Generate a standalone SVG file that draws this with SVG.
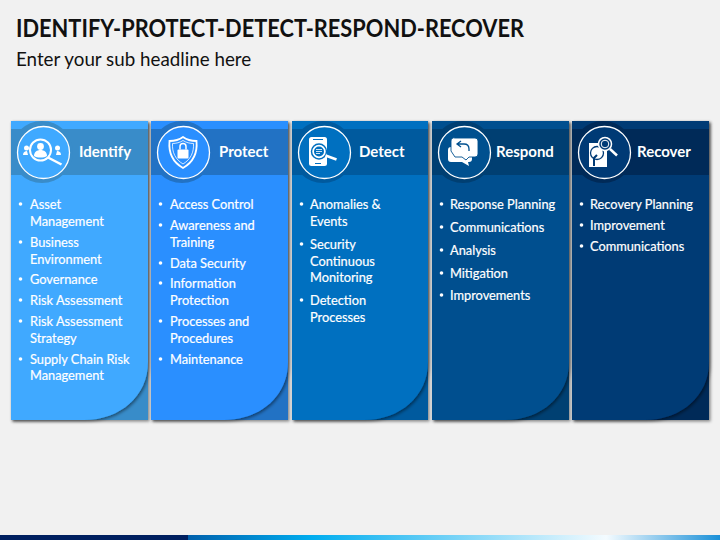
<svg xmlns="http://www.w3.org/2000/svg" width="720" height="540" viewBox="0 0 720 540">
<style>
text{font-family:Lato,"Open Sans","Liberation Sans",sans-serif;fill:#fff}
.title{font-size:24.5px;font-weight:700;fill:#111}
.sub{font-size:18.8px;fill:#111}
.h{font-size:15px;font-weight:700}
.t{font-size:12.8px;stroke:#fff;stroke-width:.2px}
.ring{fill:none;stroke:#fff;stroke-width:1.3}
.w{fill:#fff;stroke:none}
.sw{fill:none;stroke:#fff}
</style>
<defs>
<linearGradient id="bar" x1="0" x2="1" y1="0" y2="0">
<stop offset="0" stop-color="#0060ac"/><stop offset=".233" stop-color="#00adef"/><stop offset=".786" stop-color="#f4fbff"/><stop offset="1" stop-color="#1a90d8"/>
</linearGradient>
<filter id="sh" x="-10%" y="-5%" width="120%" height="110%"><feDropShadow dx="1.500" dy="1.500" stdDeviation="1.500" flood-color="#000" flood-opacity=".45"/></filter>
<path id="face" d="M11 121H148V362C148 396 120 420 84 420H11Z"/>
<clipPath id="c"><rect x="11" y="121" width="137" height="299"/></clipPath>
</defs>
<rect width="720" height="540" fill="#f1f1f1"/>
<text class="title" x="16" y="37" textLength="508" lengthAdjust="spacingAndGlyphs">IDENTIFY-PROTECT-DETECT-RESPOND-RECOVER</text>
<text class="sub" x="16" y="66">Enter your sub headline here</text>
<rect y="535" width="188" height="5" fill="#002060"/>
<rect x="188" y="535" width="532" height="5" fill="url(#bar)"/>

<g id="identify">
<rect x="11" y="121" width="137" height="299" fill="#398cc9" filter="url(#sh)"/>
<use href="#face" fill="#3fa9ff" filter="url(#sh)"/>
<rect x="11" y="129" width="137" height="46" fill="#398cc9"/>
<g clip-path="url(#c)"><circle cx="42" cy="152" r="31" fill="#398cc9"/></g>
<circle cx="43.500" cy="152.500" r="26" fill="#3fa9ff"/><circle class="ring" cx="43.500" cy="152.500" r="26"/>
<circle class="sw" cx="40.500" cy="150" r="10.500" stroke-width="2"/>
<circle class="w" cx="40.500" cy="146.500" r="3.400"/><path class="w" d="M34 156c0-4 3-6 6.500-6s6.500 2 6.500 6c-3 2-10 2-13 0z"/>
<path class="sw" d="M48 157.500l13.500 7" stroke-width="2.500"/>
<circle class="w" cx="26.500" cy="148" r="2.500"/><path class="w" d="M23 155c0-3 2-4 4-4l1 4z"/>
<circle class="w" cx="57.500" cy="148" r="2.500"/><path class="w" d="M61 155c0-3-2-4-4-4l-1 4z"/>
<text class="h" x="79" y="157">Identify</text>
<g class="t"><circle class="w" cx="20.500" cy="204" r="1.800"/><text x="30" y="208.500">Asset</text><text x="30" y="225.500">Management</text>
<circle class="w" cx="20.500" cy="242" r="1.800"/><text x="30" y="246.500">Business</text><text x="30" y="263.500">Environment</text>
<circle class="w" cx="20.500" cy="279" r="1.800"/><text x="30" y="283.500">Governance</text>
<circle class="w" cx="20.500" cy="300" r="1.800"/><text x="30" y="304.500">Risk Assessment</text>
<circle class="w" cx="20.500" cy="321" r="1.800"/><text x="30" y="325.500">Risk Assessment</text><text x="30" y="342.500">Strategy</text>
<circle class="w" cx="20.500" cy="359" r="1.800"/><text x="30" y="363.500">Supply Chain Risk</text><text x="30" y="380">Management</text></g>
</g>

<g id="protect" transform="translate(140 0)">
<rect x="11" y="121" width="137" height="299" fill="#2272c4" filter="url(#sh)"/>
<use href="#face" fill="#2a8fff" filter="url(#sh)"/>
<rect x="11" y="129" width="137" height="46" fill="#2272c4"/>
<g clip-path="url(#c)"><circle cx="42" cy="152" r="31" fill="#2272c4"/></g>
<circle cx="43.500" cy="152.500" r="26" fill="#2a8fff"/><circle class="ring" cx="43.500" cy="152.500" r="26"/>
<path class="sw" d="M43 137c4 3 9 4 13.500 4 1 11-3 21-13.500 27-10.500-6-14.500-16-13.500-27 4.500 0 9.500-1 13.500-4z" stroke-width="1.800"/>
<path class="sw" d="M43 140.500c3 2 7 3 10.500 3 .5 9-3 16-10.500 20.500-7.500-4.500-11-11.500-10.500-20.500 3.500 0 7.500-1 10.500-3z" stroke-width=".8"/>
<rect class="w" x="37.500" y="149.500" width="11" height="9" rx="1"/><path class="sw" d="M40 149.500v-3a3 3 0 0 1 6 0v3" stroke-width="1.500"/>
<text class="h" x="79" y="157">Protect</text>
<g class="t"><circle class="w" cx="20.500" cy="204" r="1.800"/><text x="30" y="208.500">Access Control</text>
<circle class="w" cx="20.500" cy="225" r="1.800"/><text x="30" y="229.500">Awareness and</text><text x="30" y="246.500">Training</text>
<circle class="w" cx="20.500" cy="263" r="1.800"/><text x="30" y="267.500">Data Security</text>
<circle class="w" cx="20.500" cy="283" r="1.800"/><text x="30" y="287.500">Information</text><text x="30" y="304.500">Protection</text>
<circle class="w" cx="20.500" cy="321" r="1.800"/><text x="30" y="325.500">Processes and</text><text x="30" y="342.500">Procedures</text>
<circle class="w" cx="20.500" cy="359" r="1.800"/><text x="30" y="363.500">Maintenance</text></g>
</g>

<g id="detect" transform="translate(281 0)">
<rect x="11" y="121" width="136" height="299" fill="#005a9e" filter="url(#sh)"/>
<path d="M11 121H147V362C147 396 119 420 83 420H11Z" fill="#0070c0" filter="url(#sh)"/>
<rect x="11" y="129" width="136" height="46" fill="#005a9e"/>
<g clip-path="url(#c)"><circle cx="42" cy="152" r="31" fill="#005a9e"/></g>
<circle cx="43.500" cy="152.500" r="26" fill="#0070c0"/><circle class="ring" cx="43.500" cy="152.500" r="26"/>
<rect class="w" x="28" y="137" width="18" height="29" rx="2.500"/>
<circle cx="38" cy="151.500" r="7.500" fill="#fff" stroke="#0070c0" stroke-width="1.500"/><circle cx="38" cy="151.500" r="5" fill="#0070c0"/>
<path class="sw" d="M35 149.500h6M35 151.500h6M35 153.500h4" stroke-width=".8"/>
<path class="sw" d="M44.500 155.500l11 4" stroke-width="2.500"/>
<path d="M32 139.500h10M34 163.500h6" stroke="#0070c0" stroke-width="1" fill="none"/>
<text class="h" x="78" y="157">Detect</text>
<g class="t"><circle class="w" cx="20.500" cy="204" r="1.800"/><text x="29" y="208.500">Anomalies &amp;</text><text x="29" y="225.500">Events</text>
<circle class="w" cx="20.500" cy="244" r="1.800"/><text x="29" y="248.500">Security</text><text x="29" y="265.500">Continuous</text><text x="29" y="281.500">Monitoring</text>
<circle class="w" cx="20.500" cy="300" r="1.800"/><text x="29" y="304.500">Detection</text><text x="29" y="321.500">Processes</text></g>
</g>

<g id="respond" transform="translate(421 0)">
<rect x="11" y="121" width="137" height="299" fill="#003f72" filter="url(#sh)"/>
<use href="#face" fill="#00508f" filter="url(#sh)"/>
<rect x="11" y="129" width="137" height="46" fill="#003f72"/>
<g clip-path="url(#c)"><circle cx="42" cy="152" r="31" fill="#003f72"/></g>
<circle cx="43.500" cy="152.500" r="26" fill="#00508f"/><circle class="ring" cx="43.500" cy="152.500" r="26"/>
<path class="w" d="M30 147h18a3 3 0 0 1 3 3v9a3 3 0 0 1-3 3h-1l1 4-7-4H30a3 3 0 0 1-3-3v-9a3 3 0 0 1 3-3z"/>
<path class="w" d="M34 138h20a3 3 0 0 1 3 3v13a3 3 0 0 1-3 3h-6l-3 3-4-3h-7l-4-6v-10a3 3 0 0 1 4-3z" stroke="#00508f" style="stroke:#00508f;stroke-width:.9px"/>
<path d="M40 141l-4 3 4 3M37 144h6c3 0 5 2 5 5v2" fill="none" stroke="#00508f" stroke-width="1.300"/>
<text class="h" x="75" y="157">Respond</text>
<g class="t"><circle class="w" cx="20.500" cy="204" r="1.800"/><text x="29" y="208.500">Response Planning</text>
<circle class="w" cx="20.500" cy="227" r="1.800"/><text x="29" y="231.500">Communications</text>
<circle class="w" cx="20.500" cy="250" r="1.800"/><text x="29" y="254.500">Analysis</text>
<circle class="w" cx="20.500" cy="273" r="1.800"/><text x="29" y="277.500">Mitigation</text>
<circle class="w" cx="20.500" cy="295" r="1.800"/><text x="29" y="299.500">Improvements</text></g>
</g>

<g id="recover" transform="translate(561 0)">
<rect x="11" y="121" width="137" height="299" fill="#002a58" filter="url(#sh)"/>
<use href="#face" fill="#003a75" filter="url(#sh)"/>
<rect x="11" y="129" width="137" height="46" fill="#002a58"/>
<g clip-path="url(#c)"><circle cx="42" cy="152" r="31" fill="#002a58"/></g>
<circle cx="43.500" cy="152.500" r="26" fill="#003a75"/><circle class="ring" cx="43.500" cy="152.500" r="26"/>
<rect class="w" x="28" y="143" width="18" height="24"/>
<circle cx="36" cy="153" r="6.500" fill="none" stroke="#003a75" stroke-width="1.300"/>
<path d="M33 166v-8l3-3" stroke="#003a75" stroke-width="2" fill="none"/>
<circle cx="44" cy="144" r="6.500" fill="#003a75" stroke="#fff" stroke-width="1.500"/><circle class="sw" cx="44" cy="144" r="3.800" stroke-width="1"/>
<path class="sw" d="M49 149l7 6.500" stroke-width="2.500"/>
<text class="h" x="76" y="157">Recover</text>
<g class="t"><circle class="w" cx="20.500" cy="204" r="1.800"/><text x="29" y="208.500">Recovery Planning</text>
<circle class="w" cx="20.500" cy="225" r="1.800"/><text x="29" y="229.500">Improvement</text>
<circle class="w" cx="20.500" cy="246" r="1.800"/><text x="29" y="250.500">Communications</text></g>
</g>
</svg>
